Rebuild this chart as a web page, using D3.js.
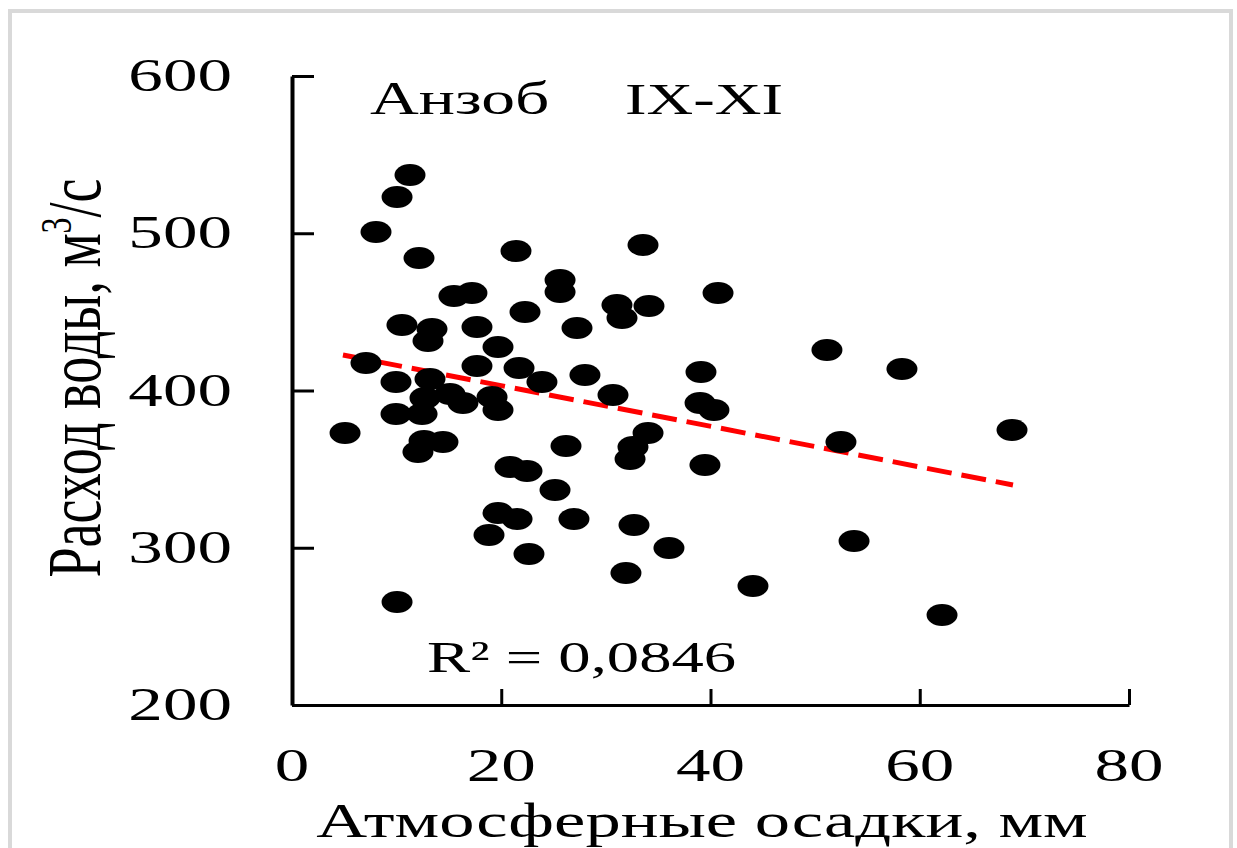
<!DOCTYPE html>
<html>
<head>
<meta charset="utf-8">
<script src="https://cdn.jsdelivr.net/npm/d3@7"></script>
<style>
  body { margin: 0; background: #fff; }
  text { font-family: "Liberation Serif", "Times New Roman", serif; fill: #000; }
</style>
</head>
<body>
<div id="chart"></div>
<script>
// atmospheric precipitation, mm (x) and water discharge, m3/s (y)
var precip = [11.28, 10.04, 8.03, 12.14, 21.41, 33.55, 15.48, 17.20, 25.62, 25.62,
              40.72, 22.27, 31.06, 31.54, 34.12, 10.51, 13.38, 13.00, 17.68, 27.24,
              19.69, 51.13, 7.07, 17.68, 21.70, 23.89, 28.00, 39.09, 58.30, 9.94,
              13.19, 12.71, 15.10, 16.34, 19.12, 19.69, 9.94, 12.43, 30.68, 39.00,
              40.33, 68.82, 5.07, 12.62, 14.43, 12.04, 34.03, 32.59, 32.31, 26.19,
              52.47, 20.84, 22.46, 39.47, 25.14, 19.69, 21.51, 26.95, 32.69, 18.83,
              53.72, 22.65, 36.03, 31.92, 44.06, 10.04, 62.13];
var discharge = [537.0, 523.1, 500.8, 484.3, 488.7, 492.5, 460.1, 462.0, 470.3, 462.6,
                 462.0, 449.9, 454.4, 446.1, 453.7, 441.7, 439.1, 431.5, 440.4, 439.7,
                 427.7, 425.8, 417.5, 415.6, 414.3, 405.4, 409.9, 411.8, 413.7, 405.4,
                 407.3, 395.2, 397.8, 392.0, 395.9, 387.6, 385.1, 385.1, 397.1, 392.0,
                 387.6, 374.9, 373.0, 367.9, 367.2, 360.9, 373.0, 364.1, 356.4, 364.7,
                 367.2, 351.4, 348.8, 352.6, 336.7, 322.1, 318.3, 318.3, 314.5, 308.1,
                 304.3, 296.0, 299.8, 283.9, 275.7, 265.5, 257.2];

// linear trend end points
var trendX = [4.87, 68.91];
var trendY = [422.6, 339.9];

var xTicks = [0, 20, 40, 60, 80];
var yTicks = [200, 300, 400, 500, 600];

var xTitle = "Атмосферные осадки, мм";
var yTitle = "Расход воды, м";
var station = "Анзоб";
var period = "IX-XI";
var r2Label = "R² = 0,0846";

// the picture is stretched sideways, so the text is too
var sx = 1.47;

var width = 1237, height = 848;

var svg = d3.select("#chart")
  .append("svg")
    .attr("width", width)
    .attr("height", height);

// light grey frame round the picture
svg.append("rect")
    .attr("x", 10)
    .attr("y", 11)
    .attr("width", 1221)
    .attr("height", 860)
    .attr("fill", "none")
    .attr("stroke", "#d9d9d9")
    .attr("stroke-width", 4);

// scales
var x = d3.scaleLinear()
    .domain([0, 80])
    .range([292, 1129]);

var y = d3.scaleLinear()
    .domain([200, 600])
    .range([705, 76]);

// X axis, ticks point up into the plot
var xAxis = svg.append("g")
    .attr("transform", "translate(0," + y(200) + ")")
    .call(d3.axisBottom(x).tickValues(xTicks).tickSizeInner(-16).tickSizeOuter(0).tickFormat(""));
xAxis.select(".domain").attr("stroke-width", 3.2);
xAxis.selectAll(".tick line").attr("stroke-width", 3);

// Y axis, ticks point right
var yAxis = svg.append("g")
    .attr("transform", "translate(" + x(0) + ",0)")
    .call(d3.axisLeft(y).tickValues(yTicks).tickSizeInner(-22).tickSizeOuter(0).tickFormat(""));
yAxis.select(".domain").attr("stroke-width", 4);
yAxis.selectAll(".tick line").attr("stroke-width", 3);

// tick labels
svg.selectAll("xlabels")
  .data(xTicks)
  .enter()
  .append("text")
    .attr("transform", function(d){ return "translate(" + x(d) + ",781) scale(" + sx + ",1)"; })
    .attr("text-anchor", "middle")
    .attr("font-size", "47px")
    .text(function(d){ return d; });

svg.selectAll("ylabels")
  .data(yTicks)
  .enter()
  .append("text")
    .attr("transform", function(d){ return "translate(232," + (y(d) + 15) + ") scale(" + sx + ",1)"; })
    .attr("text-anchor", "end")
    .attr("font-size", "47px")
    .text(function(d){ return d; });

// trend line
svg.append("line")
    .attr("x1", x(trendX[0]))
    .attr("y1", y(trendY[0]))
    .attr("x2", x(trendX[1]))
    .attr("y2", y(trendY[1]))
    .attr("stroke", "#ff0000")
    .attr("stroke-width", 5)
    .attr("stroke-dasharray", "25,10");

// points
svg.selectAll("dots")
  .data(precip)
  .enter()
  .append("ellipse")
    .attr("cx", function(d){ return x(d); })
    .attr("cy", function(d, i){ return y(discharge[i]); })
    .attr("rx", 15.5)
    .attr("ry", 11)
    .attr("fill", "#000");

// station and season
svg.append("text")
    .attr("transform", "translate(370,114) scale(" + sx + ",1)")
    .attr("font-size", "46px")
    .text(station);
svg.append("text")
    .attr("transform", "translate(625,114) scale(" + sx + ",1)")
    .attr("font-size", "44px")
    .text(period);

// R squared
svg.append("text")
    .attr("transform", "translate(427,672) scale(" + sx + ",1)")
    .attr("font-size", "44px")
    .text(r2Label);

// x title
svg.append("text")
    .attr("transform", "translate(702,837) scale(" + sx + ",1)")
    .attr("text-anchor", "middle")
    .attr("font-size", "48px")
    .text(xTitle);

// y title, rotated, with superscript 3
var yt = svg.append("text")
    .attr("transform", "translate(100,378) rotate(-90) scale(1,1.4)")
    .attr("text-anchor", "middle")
    .attr("font-size", "54px");
yt.append("tspan").text(yTitle);
yt.append("tspan").attr("font-size", "32px").attr("dy", -21).text("3");
yt.append("tspan").attr("dy", 21).text("/с");
</script>
</body>
</html>
